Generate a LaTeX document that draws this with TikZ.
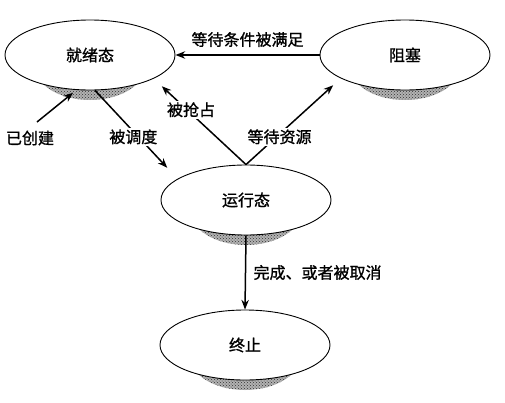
\documentclass[tikz,border=0pt]{standalone}
\usepackage{fontspec}
\newfontfamily\cjk[FakeBold=1.2]{Noto Sans CJK SC}
\usetikzlibrary{positioning,arrows.meta,shapes.geometric,patterns,backgrounds}
\tikzset{
  % --- process states ---------------------------------------------------------
  state/.style={ellipse,draw,line width=0.9pt,minimum width=170pt,
                minimum height=70pt,fill=white},
  shade/.style={fill=black!30,postaction={pattern=crosshatch dots,pattern color=black!80}},
  % --- transitions ------------------------------------------------------------
  ar/.style={-{Stealth[length=3.4mm,width=2.6mm]},line width=1.5pt},
  lab/.style={fill=white,inner sep=1.5pt},
}
\begin{document}
\begin{tikzpicture}[x=1pt,y=-1pt,font=\cjk\fontsize{16}{18}\selectfont]
  \useasboundingbox (0,0) rectangle (505,402);
  \node[state] (ready) at (90,55) {就绪态};
  \node[state] (block) at (405,55) {阻塞};
  \node[state] (run) at (246,200) {运行态};
  \node[state] (term) at (245,345) {终止};
  % speckled shadows under the states
  \begin{scope}[on background layer]
    \foreach \n in {ready,block,run,term}
      \fill[shade] ([yshift=-10pt]\n.center) ellipse (56pt and 35pt);
  \end{scope}
  \coordinate (new) at (37,122);
  \node (newlab) at (30,138) {已创建};
  \draw[ar] (block.west) -- (ready.east) node[midway,above=4pt] {等待条件被满足};
  \draw[ar] (new) -- ([yshift=-3pt]ready.-116);
  \draw[ar] (ready.-82) -- node[lab,pos=.6,xshift=-5pt] {被调度} ([xshift=-7pt,yshift=13pt]run.165);
  \draw[ar] (run.north) -- node[lab,pos=.7,xshift=4pt] {被抢占} ([yshift=-12pt]ready.-15);
  \draw[ar] (run.north) -- node[lab,pos=.35,xshift=3pt] {等待资源} ([yshift=-11pt]block.195);
  \draw[ar] (run.south) -- (term.north) node[midway,right=4pt] {完成、或者被取消};
\end{tikzpicture}
\end{document}
